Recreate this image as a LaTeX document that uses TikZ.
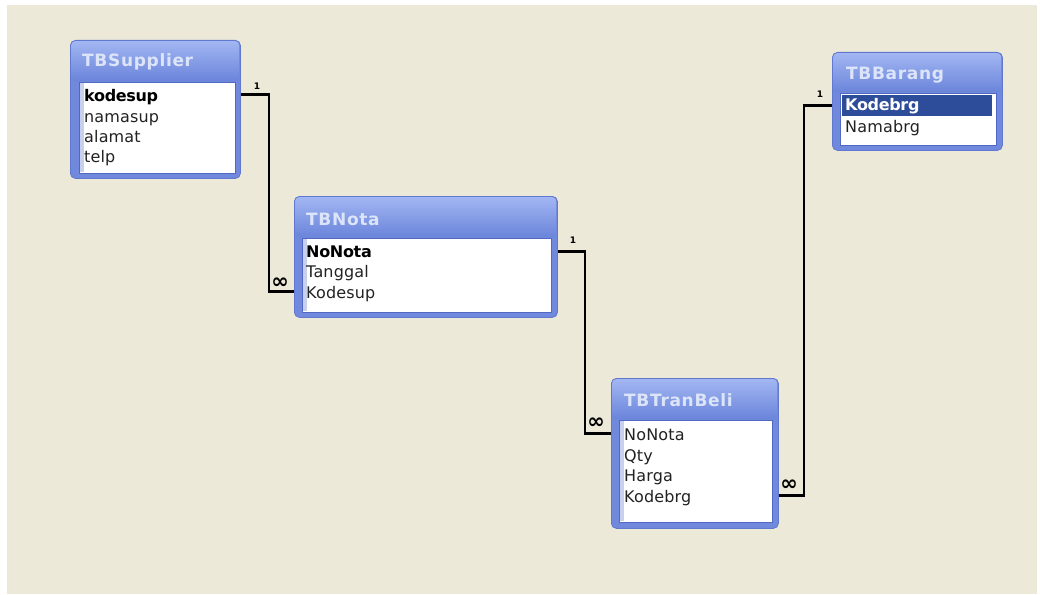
\documentclass[tikz,border=0pt]{standalone}
\usepackage{fontspec}
\setmainfont{DejaVu Sans}
\usetikzlibrary{calc}
\definecolor{bgc}{HTML}{ECE9D8}
\definecolor{frameline}{HTML}{6078CF}
\definecolor{framefill}{HTML}{7189DC}
\definecolor{bartop}{HTML}{A2B6F2}
\definecolor{barbot}{HTML}{6A84DA}
\definecolor{titletext}{HTML}{DCE4F9}
\definecolor{bodyline}{HTML}{5068C4}
\definecolor{stripc}{HTML}{C9D0EE}
\definecolor{rowtext}{HTML}{222222}
\definecolor{hlc}{HTML}{2D4C9A}
\tikzset{
 tframe/.style={draw=frameline, fill=framefill, rounded corners=5pt, line width=0.8pt, anchor=north west, inner sep=0pt},
 tbar/.style={top color=bartop, bottom color=barbot, draw=none, rounded corners=4pt, anchor=north west, inner sep=0pt},
 ttitle/.style={anchor=west, text=titletext, font=\fontsize{17}{19}\selectfont\bfseries\addfontfeature{LetterSpace=4}, inner sep=0pt},
 tbody/.style={draw=bodyline, fill=white, line width=0.8pt, anchor=north west, inner sep=0pt},
 tstrip/.style={fill=stripc, anchor=north west, inner sep=0pt, minimum width=4pt},
 trow/.style={anchor=west, inner sep=0pt, text height=11pt, text depth=3pt, font=\fontsize{16}{18}\selectfont\addfontfeature{LetterSpace=1}, text=rowtext},
 tkey/.style={trow, text=black, font=\fontsize{16}{18}\selectfont\bfseries\addfontfeature{LetterSpace=-2}},
 hlbox/.style={fill=hlc, anchor=north west, inner sep=0pt},
 stub/.style={line width=3pt, draw=black},
 rel/.style={line width=1.8pt, draw=black},
 one/.style={font=\fontsize{9}{10}\selectfont\bfseries, inner sep=0pt},
 many/.style={font=\fontsize{21}{22}\selectfont\bfseries, inner sep=0pt},
}
\begin{document}
\begin{tikzpicture}[x=1pt,y=-1pt]
\useasboundingbox (0,0) rectangle (1040,594);
\fill[white] (0,0) rectangle (1040,594);
\fill[bgc] (7,5) rectangle (1037,594);

% TBSupplier
\node[tframe, minimum width=170pt, minimum height=138pt] (sup) at (70,40) {};
\node[tbar, minimum width=168pt, minimum height=40pt] (supbar) at (71,41) {};
\node[tbody, minimum width=156pt, minimum height=91pt] (supbody) at (79,82) {};
\node[tstrip, minimum height=89pt] (supstrip) at (80,83) {};
\node[ttitle] (supt) at (82,62) {TBSupplier};
\node[tkey] (supk) at (84,97) {kodesup};
\node[trow] (supr2) at (84,118) {namasup};
\node[trow] (supr3) at (84,138) {alamat};
\node[trow] (supr4) at (84,158) {telp};

% TBNota
\node[tframe, minimum width=263pt, minimum height=121pt] (nota) at (294,196) {};
\node[tbar, minimum width=261pt, minimum height=40pt] (notabar) at (295,197) {};
\node[tbody, minimum width=249pt, minimum height=74pt] (notabody) at (302,238) {};
\node[tstrip, minimum height=72pt] (notastrip) at (303,239) {};
\node[ttitle] (notat) at (306,219) {TBNota};
\node[tkey] (notak) at (306,253) {NoNota};
\node[trow] (notar2) at (306,273) {Tanggal};
\node[trow] (notar3) at (306,294) {Kodesup};

% TBTranBeli
\node[tframe, minimum width=167pt, minimum height=150pt] (tran) at (611,378) {};
\node[tbar, minimum width=165pt, minimum height=40pt] (tranbar) at (612,379) {};
\node[tbody, minimum width=153pt, minimum height=102pt] (tranbody) at (619,420) {};
\node[tstrip, minimum height=100pt] (transtrip) at (620,421) {};
\node[ttitle] (trant) at (624,400) {TBTranBeli};
\node[trow] (tranr1) at (624,436) {NoNota};
\node[trow] (tranr2) at (624,457) {Qty};
\node[trow] (tranr3) at (624,477) {Harga};
\node[trow] (tranr4) at (624,498) {Kodebrg};

% TBBarang
\node[tframe, minimum width=170pt, minimum height=98pt] (bar) at (832,52) {};
\node[tbar, minimum width=168pt, minimum height=39pt] (barbar) at (833,53) {};
\node[tbody, minimum width=156pt, minimum height=52pt] (barbody) at (840,93) {};
\node[hlbox, minimum width=150pt, minimum height=21pt] (barh) at (842,95) {};
\node[ttitle] (bart) at (846,75) {TBBarang};
\node[tkey, text=white] (bark) at (845,106) {Kodebrg};
\node[trow] (barr2) at (845,128) {Namabrg};

% Relationship TBSupplier - TBNota
\path ($(sup.east |- supk)+(0,-2.5)$) coordinate (s1a) ++(28,0) coordinate (c1a);
\path ($(nota.west |- notar3)+(0,-2.5)$) coordinate (s1b);
\draw[rel] (c1a) -- (c1a |- s1b);
\draw[stub] (s1a) -- ([xshift=0.9pt]c1a);
\draw[stub] ([xshift=-0.9pt]c1a |- s1b) -- (s1b);
\node[one] (one1) at (257,86) {1};
\node[many] (many1) at (280,283) {∞};

% Relationship TBNota - TBTranBeli
\path ($(nota.east |- notak)+(0,-2)$) coordinate (s2a) ++(27,0) coordinate (c2a);
\path ($(tran.west |- tranr1)+(0,-3)$) coordinate (s2b);
\draw[rel] (c2a) -- (c2a |- s2b);
\draw[stub] (s2a) -- ([xshift=0.9pt]c2a);
\draw[stub] ([xshift=-0.9pt]c2a |- s2b) -- (s2b);
\node[one] (one2) at (573,240) {1};
\node[many] (many2) at (596,423) {∞};

% Relationship TBBarang - TBTranBeli
\path (bar.west |- barh) coordinate (s3a) ++(-28,0) coordinate (c3a);
\path ($(tran.east |- tranr4)+(0,-3)$) coordinate (s3b);
\draw[rel] (c3a) -- (c3a |- s3b);
\draw[stub] (s3a) -- ([xshift=-0.9pt]c3a);
\draw[stub] ([xshift=0.9pt]c3a |- s3b) -- (s3b);
\node[one] (one3) at (820,94) {1};
\node[many] (many3) at (789,485) {∞};
\end{tikzpicture}
\end{document}
